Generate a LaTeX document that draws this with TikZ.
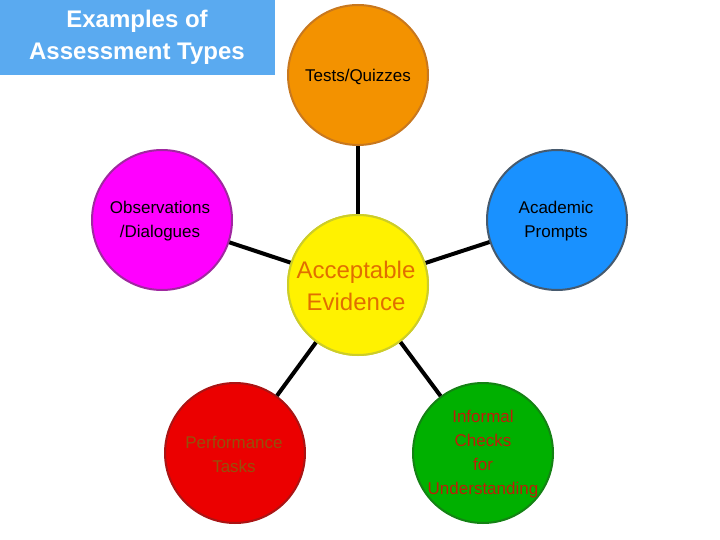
\documentclass[tikz,border=0pt]{standalone}
\usepackage{fontspec}
\setmainfont{Liberation Sans}
\begin{document}
\begin{tikzpicture}[x=1pt,y=-1pt,
  bub/.style={circle,minimum size=140pt,inner sep=0pt,line width=2pt,align=center,font=\fontsize{17}{24}\selectfont},
  link/.style={line width=4pt,black}]
\useasboundingbox (0,0) rectangle (720,540);
\fill[fill={rgb,255:red,90;green,170;blue,240}] (0,0) rectangle (275,75);
\node (title) at (137,37) [text=white,font=\bfseries\fontsize{24}{32}\selectfont,align=center] {Examples of\\Assessment Types};
\node[bub,fill={rgb,255:red,243;green,146;blue,0},draw={rgb,255:red,200;green,120;blue,30}] (t) at (358,75) {};
\node[bub,fill={rgb,255:red,25;green,145;blue,255},draw={rgb,255:red,70;green,90;blue,110}] (a) at (557,220) {};
\node[bub,fill={rgb,255:red,255;green,0;blue,255},draw={rgb,255:red,160;green,40;blue,160}] (o) at (162,220) {};
\node[bub,fill={rgb,255:red,235;green,0;blue,0},draw={rgb,255:red,170;green,20;blue,20}] (p) at (235,453) {};
\node[bub,fill={rgb,255:red,0;green,176;blue,0},draw={rgb,255:red,20;green,130;blue,20}] (i) at (483,453) {};
\node[bub,fill=yellow,draw={rgb,255:red,205;green,205;blue,40}] (c) at (358,285) {};
\draw[link] (c) -- (t); \draw[link] (c) -- (a); \draw[link] (c) -- (o);
\draw[link] (c) -- (p); \draw[link] (c) -- (i);
\node[bub,fill=yellow,draw={rgb,255:red,205;green,205;blue,40}] (c2) at (358,285) {};
\node[font=\fontsize{17}{24}\selectfont] (tt) at (358,77) {Tests/Quizzes};
\node[font=\fontsize{17}{24}\selectfont,align=center] (at) at (556,221) {Academic\\Prompts};
\node[font=\fontsize{17}{24}\selectfont,align=center] (ot) at (160,221) {Observations\\/Dialogues};
\node[font=\fontsize{24}{32}\selectfont,align=center,text={rgb,255:red,225;green,110;blue,0}] (ct) at (356,286) {Acceptable\\Evidence};
\node[font=\fontsize{17}{24}\selectfont,align=center,text={rgb,255:red,150;green,80;blue,10}] (pt) at (234,454) {Performance\\Tasks};
\node[font=\fontsize{17}{24}\selectfont,align=center,text={rgb,255:red,190;green,30;blue,10}] (it) at (483,454) {Informal\\Checks\\for\\Understanding};
\end{tikzpicture}
\end{document}
